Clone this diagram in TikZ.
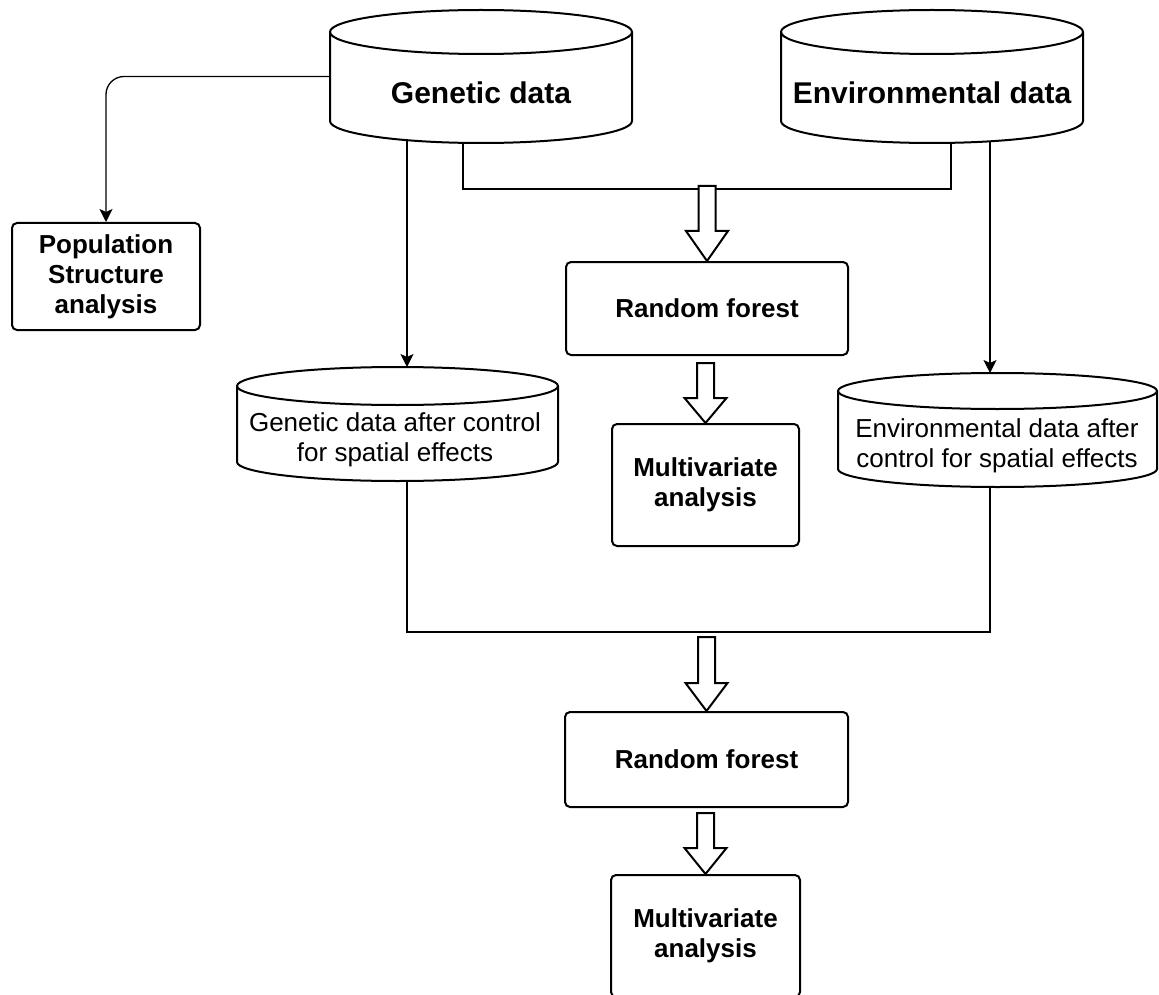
\documentclass[tikz,border=0pt]{standalone}
\usepackage{fontspec}
\setmainfont{Liberation Sans}
\usetikzlibrary{arrows.meta,calc,backgrounds}

\tikzset{
  box/.style={draw=black, line width=2pt, fill=white, rounded corners=5pt,
    align=center, inner sep=0pt, font=\fontsize{26}{30}\selectfont\bfseries},
  cylframe/.style={rectangle, inner sep=0pt, outer sep=0pt},
  cylline/.style={draw=black, fill=white, line width=2pt},
  bigtitle/.style={font=\fontsize{30}{36}\selectfont\bfseries, inner sep=0pt},
  smalltitle/.style={font=\fontsize{26}{30}\selectfont, align=center, inner sep=0pt},
  feed/.style={draw=black, line width=2.2pt},
  thinarrow/.style={draw=black, line width=1.3pt,
    -{Stealth[length=13pt, width=13pt, inset=3pt]}},
  hollowarrow/.style={draw=black, fill=white, line width=2pt, line join=miter},
}

% cylinder outline drawn over the bounding box of an invisible frame node
% #1 = frame node, #2 = vertical radius of the end ellipses (pt)
\newcommand\cylbody[2]{%
  \filldraw[cylline] let \p1=(#1.south west), \p2=(#1.north east),
      \n1={(\x2-\x1)/2} in
    (\x1,{\y2-#2pt}) -- (\x1,{\y1+#2pt})
      arc[start angle=180, end angle=360, x radius=\n1, y radius=#2pt]
      -- (\x2,{\y2-#2pt})
      arc[start angle=0, end angle=180, x radius=\n1, y radius=#2pt]
      -- cycle;
  \draw[cylline, fill=none] let \p1=(#1.south west), \p2=(#1.north east),
      \n1={(\x2-\x1)/2} in
    (\x1,{\y2-#2pt})
      arc[start angle=180, end angle=360, x radius=\n1, y radius=#2pt];
}

% hollow block arrow from #1 (tail) down to #2 (tip), head length #3 (pt)
\newcommand\blockarrow[3]{%
  \filldraw[hollowarrow] let \p1=#1, \p2=#2 in
    ({\x2-8.5pt},\y1) -- ({\x2+8.5pt},\y1) -- ({\x2+8.5pt},{\y2+#3pt})
    -- ({\x2+21pt},{\y2+#3pt}) -- (\x2,\y2) -- ({\x2-21pt},{\y2+#3pt})
    -- ({\x2-8.5pt},{\y2+#3pt}) -- cycle;
}

\begin{document}
\begin{tikzpicture}[x=1pt, y=-1pt]
  \clip (0,0) rectangle (1159,995);

  % data sources
  \node[cylframe, minimum width=302pt, minimum height=133pt] (gen) at (481,76.5) {};
  \node[cylframe, minimum width=302pt, minimum height=133pt] (env) at (932,76.5) {};
  \cylbody{gen}{22}
  \cylbody{env}{22}
  \node[bigtitle] (genlabel) at (481,93) {Genetic data};
  \node[bigtitle] (envlabel) at (932,93) {Environmental data};

  % spatially corrected data
  \node[cylframe, minimum width=321pt, minimum height=114pt] (genafter) at (397.5,424) {};
  \node[cylframe, minimum width=319pt, minimum height=114pt] (envafter) at (997.5,430) {};
  \cylbody{genafter}{19}
  \cylbody{envafter}{18}
  \node[smalltitle] (genafterlabel) at (395,440) {Genetic data after control\\for spatial effects};
  \node[smalltitle] (envafterlabel) at (997,446) {Environmental data after\\control for spatial effects};

  % analysis steps
  \node[box, minimum width=188pt, minimum height=107pt] (pop) at (106,276.5)
    {Population\\Structure\\analysis};
  \node[box, minimum width=282pt, minimum height=93pt] (rf1) at (707,308.5) {Random forest};
  \node[box, minimum width=187pt, minimum height=122pt] (mv1) at (705.5,485)
    {Multivariate\\analysis};
  \node[box, minimum width=283pt, minimum height=95pt] (rf2) at (706.5,759.5) {Random forest};
  \node[box, minimum width=189pt, minimum height=122pt] (mv2) at (705.5,936)
    {Multivariate\\analysis};

  % connector positions
  \coordinate (gmerge) at (463,0);
  \coordinate (emerge) at (951,0);
  \coordinate (gside) at (407,0);
  \coordinate (eside) at (990,0);
  \coordinate (join1) at (707,189);
  \coordinate (join2) at (707,632);

  \begin{pgfonlayer}{background}
    \fill[white] (0,0) rectangle (1159,995);
    % genetic data to population structure
    \draw[thinarrow, rounded corners=18pt] (gen.west) -| (pop.north);
    % both sources merged into the first random forest
    \draw[feed] (gen.center -| gmerge) |- (join1) -| (env.center -| emerge);
    % spatial correction branches
    \draw[thinarrow] (gen.center -| gside) -- (gside |- genafter.north);
    \draw[thinarrow] (env.center -| eside) -- (eside |- envafter.north);
    % corrected data merged into the second random forest
    \draw[feed] (genafter.center -| gside) |- (join2) -| (envafter.center -| eside);
  \end{pgfonlayer}

  \blockarrow{($(join1)+(0,-3)$)}{(rf1.north)}{30}
  \blockarrow{($(rf1.south)+(-3,7)$)}{(mv1.north)}{25}
  \blockarrow{($(join2)+(0,5)$)}{(rf2.north)}{28}
  \blockarrow{($(rf2.south)+(-2,5)$)}{(mv2.north)}{26}
\end{tikzpicture}
\end{document}
